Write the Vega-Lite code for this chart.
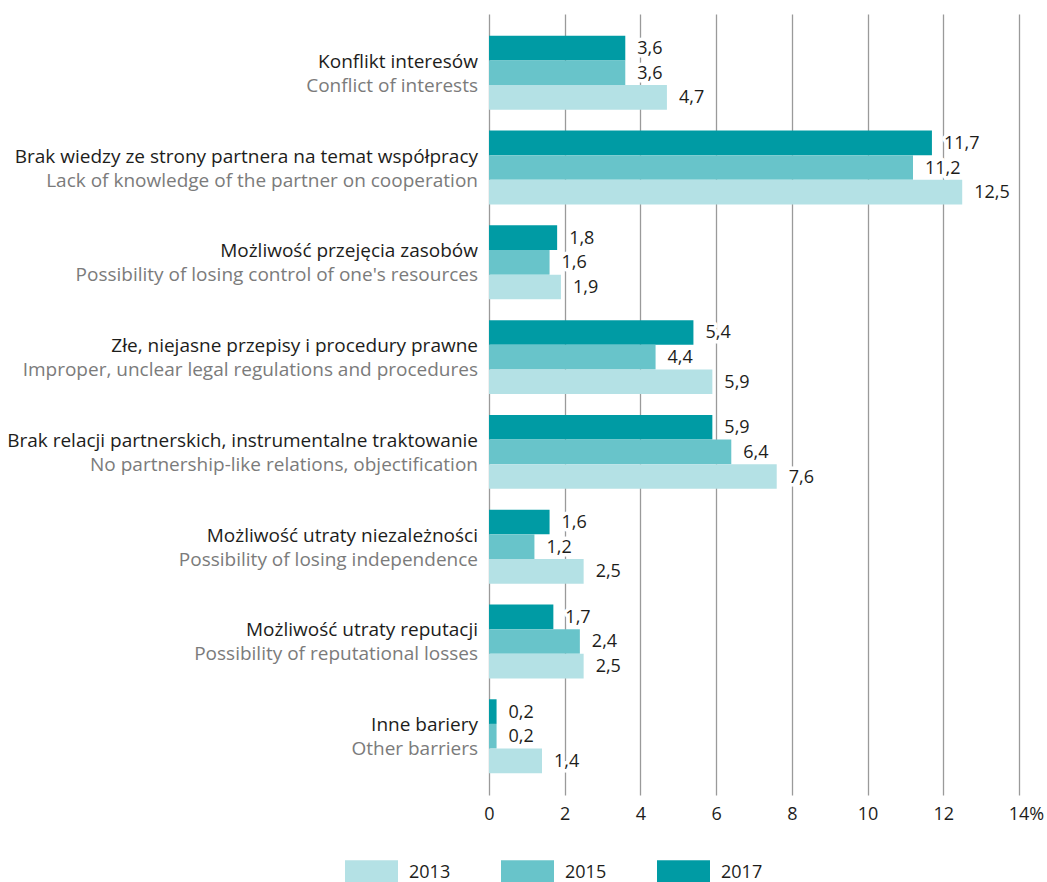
{
  "$schema": "https://vega.github.io/schema/vega-lite/v6.json",
  "autosize": "none",
  "width": 530,
  "height": 781,
  "padding": {"left": 489, "top": 14, "right": 28, "bottom": 87},
  "background": "white",
  "config": {
    "view": {"stroke": null},
    "locale": {"number": {"decimal": ",", "thousands": " ", "grouping": [3], "currency": ["", " zł"]}}
  },
  "datasets": {
    "bars": [
      {"cat": "Konflikt interesów", "year": "2017", "value": 3.6},
      {"cat": "Konflikt interesów", "year": "2015", "value": 3.6},
      {"cat": "Konflikt interesów", "year": "2013", "value": 4.7},
      {"cat": "Brak wiedzy ze strony partnera na temat współpracy", "year": "2017", "value": 11.7},
      {"cat": "Brak wiedzy ze strony partnera na temat współpracy", "year": "2015", "value": 11.2},
      {"cat": "Brak wiedzy ze strony partnera na temat współpracy", "year": "2013", "value": 12.5},
      {"cat": "Możliwość przejęcia zasobów", "year": "2017", "value": 1.8},
      {"cat": "Możliwość przejęcia zasobów", "year": "2015", "value": 1.6},
      {"cat": "Możliwość przejęcia zasobów", "year": "2013", "value": 1.9},
      {"cat": "Złe, niejasne przepisy i procedury prawne", "year": "2017", "value": 5.4},
      {"cat": "Złe, niejasne przepisy i procedury prawne", "year": "2015", "value": 4.4},
      {"cat": "Złe, niejasne przepisy i procedury prawne", "year": "2013", "value": 5.9},
      {"cat": "Brak relacji partnerskich, instrumentalne traktowanie", "year": "2017", "value": 5.9},
      {"cat": "Brak relacji partnerskich, instrumentalne traktowanie", "year": "2015", "value": 6.4},
      {"cat": "Brak relacji partnerskich, instrumentalne traktowanie", "year": "2013", "value": 7.6},
      {"cat": "Możliwość utraty niezależności", "year": "2017", "value": 1.6},
      {"cat": "Możliwość utraty niezależności", "year": "2015", "value": 1.2},
      {"cat": "Możliwość utraty niezależności", "year": "2013", "value": 2.5},
      {"cat": "Możliwość utraty reputacji", "year": "2017", "value": 1.7},
      {"cat": "Możliwość utraty reputacji", "year": "2015", "value": 2.4},
      {"cat": "Możliwość utraty reputacji", "year": "2013", "value": 2.5},
      {"cat": "Inne bariery", "year": "2017", "value": 0.2},
      {"cat": "Inne bariery", "year": "2015", "value": 0.2},
      {"cat": "Inne bariery", "year": "2013", "value": 1.4}
    ],
    "cats": [
      {"cat": "Konflikt interesów", "en": "Conflict of interests"},
      {"cat": "Brak wiedzy ze strony partnera na temat współpracy", "en": "Lack of knowledge of the partner on cooperation"},
      {"cat": "Możliwość przejęcia zasobów", "en": "Possibility of losing control of one's resources"},
      {"cat": "Złe, niejasne przepisy i procedury prawne", "en": "Improper, unclear legal regulations and procedures"},
      {"cat": "Brak relacji partnerskich, instrumentalne traktowanie", "en": "No partnership-like relations, objectification"},
      {"cat": "Możliwość utraty niezależności", "en": "Possibility of losing independence"},
      {"cat": "Możliwość utraty reputacji", "en": "Possibility of reputational losses"},
      {"cat": "Inne bariery", "en": "Other barriers"}
    ]
  },
  "layer": [
    {
      "data": {"name": "bars"},
      "mark": {"type": "bar"},
      "encoding": {
        "y": {
          "field": "cat", "type": "nominal",
          "sort": ["Konflikt interesów", "Brak wiedzy ze strony partnera na temat współpracy", "Możliwość przejęcia zasobów", "Złe, niejasne przepisy i procedury prawne", "Brak relacji partnerskich, instrumentalne traktowanie", "Możliwość utraty niezależności", "Możliwość utraty reputacji", "Inne bariery"],
          "scale": {"paddingInner": 0.22, "paddingOuter": 0.23},
          "axis": null
        },
        "yOffset": {"field": "year", "type": "nominal", "sort": ["2017", "2015", "2013"], "scale": {"paddingInner": 0, "paddingOuter": 0}},
        "x": {
          "field": "value", "type": "quantitative",
          "scale": {"domain": [0, 14], "nice": false},
          "axis": {
            "title": null,
            "values": [0, 2, 4, 6, 8, 10, 12, 14],
            "grid": true, "gridColor": "#9a9a9a", "gridWidth": 1.3,
            "domain": false, "ticks": false,
            "labelFlush": false,
            "labelFont": "Open Sans", "labelFontSize": 18, "labelColor": "#1d1d1b",
            "labelPadding": 10,
            "labelExpr": "datum.value == 14 ? '14%' : datum.label",
            "labelOffset": {"condition": {"test": "datum.value == 14", "value": 7}, "value": 0}
          }
        },
        "color": {
          "field": "year", "type": "nominal",
          "scale": {"domain": ["2013", "2015", "2017"], "range": ["#B4E1E5", "#68C4CA", "#009BA4"]},
          "legend": {
            "title": null,
            "orient": "none",
            "direction": "horizontal",
            "legendX": -144,
            "legendY": 832.5,
            "padding": 0,
            "symbolType": "M-1,-0.49h2v0.98h-2z",
            "symbolSize": 2809,
            "symbolStrokeWidth": 0,
            "symbolOpacity": 1,
            "labelOffset": 11,
            "columnPadding": 50,
            "labelFont": "Open Sans", "labelFontSize": 18, "labelColor": "#1d1d1b"
          }
        }
      }
    },
    {
      "data": {"name": "bars"},
      "mark": {"type": "text", "align": "left", "baseline": "middle", "dx": 12, "dy": 1, "font": "Open Sans", "fontSize": 18, "color": "white", "stroke": "white", "strokeWidth": 7, "strokeJoin": "round"},
      "encoding": {
        "y": {"field": "cat", "type": "nominal", "sort": ["Konflikt interesów", "Brak wiedzy ze strony partnera na temat współpracy", "Możliwość przejęcia zasobów", "Złe, niejasne przepisy i procedury prawne", "Brak relacji partnerskich, instrumentalne traktowanie", "Możliwość utraty niezależności", "Możliwość utraty reputacji", "Inne bariery"]},
        "yOffset": {"field": "year", "type": "nominal", "sort": ["2017", "2015", "2013"]},
        "x": {"field": "value", "type": "quantitative"},
        "text": {"field": "value", "type": "quantitative", "format": ".1f"}
      }
    },
    {
      "data": {"name": "bars"},
      "mark": {"type": "text", "align": "left", "baseline": "middle", "dx": 12, "dy": 1, "font": "Open Sans", "fontSize": 18, "color": "#1d1d1b"},
      "encoding": {
        "y": {"field": "cat", "type": "nominal", "sort": ["Konflikt interesów", "Brak wiedzy ze strony partnera na temat współpracy", "Możliwość przejęcia zasobów", "Złe, niejasne przepisy i procedury prawne", "Brak relacji partnerskich, instrumentalne traktowanie", "Możliwość utraty niezależności", "Możliwość utraty reputacji", "Inne bariery"]},
        "yOffset": {"field": "year", "type": "nominal", "sort": ["2017", "2015", "2013"]},
        "x": {"field": "value", "type": "quantitative"},
        "text": {"field": "value", "type": "quantitative", "format": ".1f"}
      }
    },
    {
      "data": {"name": "cats"},
      "mark": {"type": "text", "align": "right", "baseline": "alphabetic", "dx": -11, "dy": -5, "font": "Open Sans", "fontSize": 19, "color": "#1d1d1b"},
      "encoding": {
        "y": {"field": "cat", "type": "nominal", "sort": ["Konflikt interesów", "Brak wiedzy ze strony partnera na temat współpracy", "Możliwość przejęcia zasobów", "Złe, niejasne przepisy i procedury prawne", "Brak relacji partnerskich, instrumentalne traktowanie", "Możliwość utraty niezależności", "Możliwość utraty reputacji", "Inne bariery"]},
        "x": {"datum": 0},
        "text": {"field": "cat"}
      }
    },
    {
      "data": {"name": "cats"},
      "mark": {"type": "text", "align": "right", "baseline": "alphabetic", "dx": -11, "dy": 19, "font": "Open Sans", "fontSize": 19, "color": "#7b7b7b"},
      "encoding": {
        "y": {"field": "cat", "type": "nominal", "sort": ["Konflikt interesów", "Brak wiedzy ze strony partnera na temat współpracy", "Możliwość przejęcia zasobów", "Złe, niejasne przepisy i procedury prawne", "Brak relacji partnerskich, instrumentalne traktowanie", "Możliwość utraty niezależności", "Możliwość utraty reputacji", "Inne bariery"]},
        "x": {"datum": 0},
        "text": {"field": "en"}
      }
    }
  ]
}
